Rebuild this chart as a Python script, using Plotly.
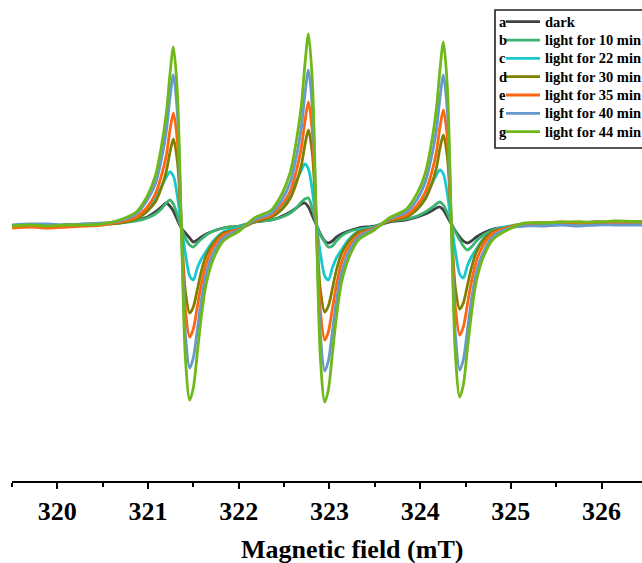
import plotly.graph_objects as go

# Magnetic field sampling points (mT)
field_mT = [
    319.50, 319.70, 319.90, 320.10, 320.30, 320.50,
    320.683, 320.871, 320.992, 321.080, 321.146, 321.202, 321.240, 321.279, 321.323, 321.367,
    321.411, 321.459, 321.499, 321.543, 321.588, 321.643, 321.720, 321.830, 322.006,
    322.172, 322.360, 322.481, 322.569, 322.635, 322.691, 322.729, 322.768, 322.812, 322.856,
    322.900, 322.948, 322.988, 323.032, 323.077, 323.132, 323.209, 323.319, 323.495,
    323.660, 323.848, 323.969, 324.057, 324.123, 324.179, 324.217, 324.256, 324.300, 324.344,
    324.388, 324.436, 324.476, 324.520, 324.565, 324.620, 324.697, 324.807, 324.983,
    325.15, 325.35, 325.55, 325.75, 325.95, 326.15, 326.45,
]

# EPR signal intensity (a.u.) for each irradiation time
dark = [
    -0.01, 0.00, -0.01, 0.01, 0.01, 0.02,
    0.04, 0.06, 0.09, 0.14, 0.19, 0.23, 0.20, 0.15, 0.06, -0.02, -0.07, -0.12, -0.16, -0.14, -0.11, -0.08, -0.05, -0.02, 0.00,
    0.04, 0.06, 0.10, 0.14, 0.18, 0.22, 0.23, 0.19, 0.10, 0.01, -0.08, -0.15, -0.17, -0.15, -0.11, -0.08, -0.05, -0.02, 0.00,
    0.04, 0.06, 0.09, 0.12, 0.15, 0.18, 0.19, 0.16, 0.09, 0.02, -0.05, -0.11, -0.15, -0.17, -0.15, -0.11, -0.07, -0.03, -0.01,
    0.02, 0.03, 0.02, 0.03, 0.04, 0.03, 0.04,
]
light_10 = [
    0.00, 0.01, 0.00, 0.01, 0.02, 0.02,
    0.03, 0.05, 0.08, 0.12, 0.17, 0.23, 0.26, 0.22, 0.11, -0.02, -0.12, -0.19, -0.21, -0.17, -0.13, -0.09, -0.05, -0.02, 0.00,
    0.04, 0.06, 0.09, 0.13, 0.18, 0.24, 0.27, 0.28, 0.17, 0.02, -0.09, -0.16, -0.21, -0.20, -0.15, -0.10, -0.06, -0.03, -0.01,
    0.05, 0.07, 0.10, 0.14, 0.18, 0.22, 0.24, 0.21, 0.13, 0.03, -0.06, -0.14, -0.20, -0.24, -0.21, -0.15, -0.09, -0.04, -0.01,
    0.02, 0.03, 0.03, 0.02, 0.03, 0.04, 0.04,
]
light_22 = [
    -0.01, 0.00, 0.01, 0.00, 0.01, 0.02,
    0.03, 0.07, 0.15, 0.27, 0.39, 0.49, 0.54, 0.50, 0.30, 0.00, -0.27, -0.50, -0.54, -0.42, -0.33, -0.25, -0.15, -0.06, -0.02,
    0.04, 0.09, 0.18, 0.32, 0.45, 0.56, 0.62, 0.57, 0.35, 0.01, -0.27, -0.50, -0.54, -0.42, -0.32, -0.24, -0.14, -0.05, -0.01,
    0.05, 0.09, 0.17, 0.29, 0.41, 0.51, 0.56, 0.52, 0.32, 0.02, -0.25, -0.48, -0.52, -0.40, -0.31, -0.23, -0.13, -0.04, 0.00,
    0.02, 0.02, 0.03, 0.03, 0.03, 0.04, 0.04,
]
light_30 = [
    0.00, 0.01, 0.00, 0.01, 0.01, 0.02,
    0.03, 0.07, 0.15, 0.24, 0.38, 0.55, 0.73, 0.87, 0.65, 0.00, -0.65, -0.87, -0.81, -0.64, -0.45, -0.29, -0.17, -0.07, -0.03,
    0.04, 0.09, 0.17, 0.28, 0.43, 0.61, 0.81, 0.96, 0.72, 0.01, -0.64, -0.86, -0.80, -0.63, -0.44, -0.28, -0.16, -0.06, -0.02,
    0.05, 0.09, 0.17, 0.27, 0.41, 0.58, 0.77, 0.91, 0.69, 0.02, -0.62, -0.83, -0.77, -0.60, -0.42, -0.26, -0.14, -0.05, -0.01,
    0.02, 0.03, 0.03, 0.04, 0.03, 0.04, 0.04,
]
light_35 = [
    -0.02, -0.01, -0.02, -0.01, 0.00, 0.01,
    0.04, 0.09, 0.19, 0.32, 0.50, 0.71, 0.95, 1.13, 0.85, 0.00, -0.83, -1.11, -1.03, -0.81, -0.58, -0.37, -0.21, -0.09, -0.03,
    0.05, 0.11, 0.22, 0.35, 0.55, 0.79, 1.04, 1.24, 0.93, 0.01, -0.85, -1.14, -1.06, -0.83, -0.59, -0.37, -0.21, -0.09, -0.02,
    0.06, 0.11, 0.21, 0.34, 0.52, 0.74, 0.98, 1.16, 0.88, 0.02, -0.81, -1.09, -1.01, -0.79, -0.56, -0.35, -0.19, -0.07, -0.01,
    0.02, 0.03, 0.04, 0.03, 0.04, 0.03, 0.04,
]
light_40 = [
    0.01, 0.02, 0.02, 0.01, 0.02, 0.03,
    0.05, 0.12, 0.26, 0.42, 0.66, 0.95, 1.27, 1.51, 1.13, 0.00, -1.07, -1.42, -1.32, -1.04, -0.74, -0.47, -0.27, -0.12, -0.04,
    0.06, 0.13, 0.27, 0.44, 0.69, 0.99, 1.31, 1.56, 1.17, 0.01, -1.09, -1.45, -1.35, -1.06, -0.75, -0.47, -0.27, -0.11, -0.03,
    0.07, 0.14, 0.27, 0.44, 0.68, 0.96, 1.27, 1.51, 1.14, 0.02, -1.08, -1.44, -1.34, -1.05, -0.74, -0.46, -0.26, -0.10, -0.02,
    0.00, 0.00, 0.01, 0.00, 0.01, 0.01, 0.01,
]
light_44 = [
    0.00, 0.01, 0.00, 0.01, 0.01, 0.02,
    0.06, 0.14, 0.30, 0.50, 0.79, 1.13, 1.50, 1.79, 1.34, 0.00, -1.31, -1.74, -1.62, -1.27, -0.90, -0.57, -0.33, -0.15, -0.05,
    0.08, 0.16, 0.33, 0.54, 0.85, 1.21, 1.61, 1.92, 1.44, 0.01, -1.32, -1.76, -1.64, -1.28, -0.91, -0.57, -0.33, -0.14, -0.04,
    0.08, 0.17, 0.33, 0.53, 0.82, 1.17, 1.55, 1.84, 1.39, 0.02, -1.28, -1.71, -1.59, -1.24, -0.88, -0.55, -0.31, -0.13, -0.03,
    0.03, 0.03, 0.04, 0.04, 0.04, 0.05, 0.04,
]

series_letters = ["a", "b", "c", "d", "e", "f", "g"]
series_names = ["dark", "light for 10 min", "light for 22 min", "light for 30 min",
                "light for 35 min", "light for 40 min", "light for 44 min"]
series_values = [dark, light_10, light_22, light_30, light_35, light_40, light_44]
series_colors = ["#404040", "#3CB371", "#17C9CF", "#808000", "#FF6611", "#6699CC", "#6FB81A"]

W, H = 642, 563
ML, MR, MT, MB = 12, 0, 0, 82
PW, PH = W - ML - MR, H - MT - MB

def px_x(x):
    return (x - ML) / PW

def px_y(y):
    return (H - MB - y) / PH

SERIF = "Liberation Serif"

fig = go.Figure()
for name, vals, col in zip(series_names, series_values, series_colors):
    fig.add_trace(go.Scatter(
        x=field_mT, y=vals, mode="lines", name=name,
        line=dict(color=col, width=2.8, shape="spline", smoothing=0.8),
        showlegend=False,
    ))

# legend box with lettered entries
shapes = [dict(type="rect", xref="paper", yref="paper",
               x0=px_x(495), x1=px_x(720), y0=px_y(148), y1=px_y(10),
               line=dict(color="#222222", width=1.6), fillcolor="white", layer="above")]
annotations = []
row0, dy = 21.7, 18.33
for i, (letter, name, col) in enumerate(zip(series_letters, series_names, series_colors)):
    yy = row0 + i * dy
    shapes.append(dict(type="line", xref="paper", yref="paper",
                       x0=px_x(506), x1=px_x(540), y0=px_y(yy), y1=px_y(yy),
                       line=dict(color=col, width=2.8), layer="above"))
    annotations.append(dict(x=px_x(497), y=px_y(yy), xref="paper", yref="paper",
                            text=letter, showarrow=False, xanchor="left", yanchor="middle",
                            font=dict(family=SERIF, size=14.5, color="black", weight="bold")))
    annotations.append(dict(x=px_x(543), y=px_y(yy), xref="paper", yref="paper",
                            text=name, showarrow=False, xanchor="left", yanchor="middle",
                            font=dict(family=SERIF, size=14.5, color="black", weight="bold")))

# axis title, centred on the full field span of the measurement frame
annotations.append(dict(x=px_x(352), y=px_y(549), xref="paper", yref="paper",
                        text="Magnetic field (mT)", showarrow=False,
                        xanchor="center", yanchor="middle",
                        font=dict(family=SERIF, size=26, color="black", weight="bold")))

fig.update_layout(
    width=W, height=H,
    margin=dict(l=ML, r=MR, t=MT, b=MB, pad=0),
    paper_bgcolor="white", plot_bgcolor="white",
    shapes=shapes, annotations=annotations,
    xaxis=dict(
        range=[319.5, 319.5 + PW / 90.7],
        tick0=320, dtick=1,
        showline=True, linecolor="black", linewidth=2,
        ticks="outside", ticklen=6, tickwidth=2, tickcolor="black",
        minor=dict(dtick=0.5, ticks="outside", ticklen=4, tickwidth=2, tickcolor="black"),
        showgrid=False, zeroline=False,
        tickfont=dict(family=SERIF, size=26, color="black", weight="bold"),
    ),
    yaxis=dict(range=[-2.55, 2.26], visible=False, showgrid=False, zeroline=False),
)

fig.write_html("out.html")
